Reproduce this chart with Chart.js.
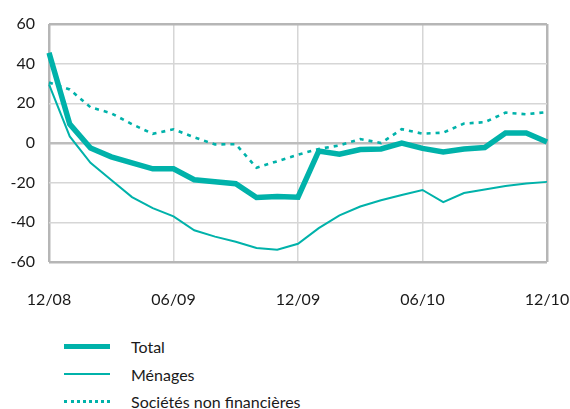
<!DOCTYPE html>
<html>
<head>
<meta charset="utf-8">
<script src="https://cdn.jsdelivr.net/npm/chart.js@4.4.1/dist/chart.umd.min.js"></script>
<style>
  body { margin: 0; background: #fff; font-family: Lato, "Open Sans", sans-serif; }
  .wrap { position: relative; width: 570px; height: 409px; }
  #chart { position: absolute; left: 0; top: 0; }
  .legend { position: absolute; left: 64px; top: 333px; font-size: 16px; color: #1a1a1a; }
  .legend .row { height: 27.5px; display: flex; align-items: center; }
  .legend .sw { width: 46px; margin-right: 21px; }
</style>
</head>
<body>
<div class="wrap">
  <canvas id="chart" width="570" height="320"></canvas>
  <div class="legend" id="legend"></div>
</div>
<script>
// months 12/08 .. 12/10
const months = ['12/08','01/09','02/09','03/09','04/09','05/09','06/09','07/09','08/09','09/09','10/09','11/09',
                '12/09','01/10','02/10','03/10','04/10','05/10','06/10','07/10','08/10','09/10','10/10','11/10','12/10'];

const total =    [45.5, 9.5, -2.5, -7, -10, -13, -13, -18.5, -19.5, -20.5, -27.5, -27, -27.3,
                  -4, -5.7, -3.3, -3, 0, -2.7, -4.5, -3, -2.3, 5, 5, 0.5];
const menages =  [29.5, 3.3, -10, -18.7, -27.3, -32.8, -37, -44, -47.2, -49.8, -52.9, -53.8, -50.8,
                  -42.9, -36.5, -32, -28.9, -26.2, -23.7, -29.8, -25.2, -23.4, -21.7, -20.4, -19.6];
const societes = [30.5, 27, 18, 15, 9.5, 4.6, 6.9, 2.9, -0.7, -0.6, -12.5, -9.2, -5.9,
                  -3, -1.2, 2, 0, 7, 4.7, 5.2, 9.8, 10.5, 15.3, 14.5, 15.6];

const yTicks = [-60, -40, -20, 0, 20, 40, 60];
const shownLabels = ['12/08', '06/09', '12/09', '06/10', '12/10'];

const teal = '#00b2aa';
const gridColor = '#d6d6d6';
const frameColor = '#b6b6b6';

const series = [
  { label: 'Total', data: total, width: 5.5, dash: [] },
  { label: 'Ménages', data: menages, width: 2, dash: [] },
  { label: 'Sociétés non financières', data: societes, width: 2.6, dash: [4, 5] }
];

new Chart(document.getElementById('chart'), {
  type: 'line',
  data: {
    labels: months,
    datasets: series.map(s => ({
      label: s.label,
      data: s.data,
      borderColor: teal,
      borderWidth: s.width,
      borderDash: s.dash,
      pointRadius: 0,
      tension: 0,
      borderJoinStyle: 'miter',
      borderCapStyle: 'butt'
    }))
  },
  options: {
    responsive: false,
    animation: false,
    layout: { padding: { top: 24, right: 23, left: 0, bottom: 0 } },
    plugins: { legend: { display: false }, tooltip: { enabled: false } },
    scales: {
      x: {
        offset: false,
        border: { display: false },
        grid: {
          drawTicks: false,
          color: ctx => {
            if (ctx.index === 0 || ctx.index === months.length - 1) return frameColor;
            return shownLabels.includes(months[ctx.index]) ? gridColor : 'rgba(0,0,0,0)';
          },
          lineWidth: ctx => (ctx.index === 0 || ctx.index === months.length - 1) ? 2.5 : 1.5
        },
        ticks: {
          autoSkip: false,
          maxRotation: 0,
          padding: 28,
          color: '#1a1a1a',
          font: { family: 'Lato', size: 16 },
          callback: function (v, i) { return shownLabels.includes(months[i]) ? months[i] : ''; }
        },
        afterFit: s => { s.height = 320 - 262; s.paddingLeft = 0; s.paddingRight = 0; }
      },
      y: {
        min: -60,
        max: 60,
        border: { display: false },
        afterBuildTicks: s => { s.ticks = yTicks.map(v => ({ value: v })); },
        grid: {
          drawTicks: false,
          color: ctx => (ctx.tick.value === 60 || ctx.tick.value === -60) ? frameColor
                        : (ctx.tick.value === 0 ? '#bdbdbd' : gridColor),
          lineWidth: ctx => (ctx.tick.value === 60 || ctx.tick.value === -60 || ctx.tick.value === 0) ? 2.5 : 1.5
        },
        ticks: {
          padding: 14,
          color: '#1a1a1a',
          font: { family: 'Lato', size: 16 }
        },
        afterFit: s => { s.width = 49; s.paddingTop = 0; s.paddingBottom = 0; }
      }
    }
  }
});

// legend
const legend = document.getElementById('legend');
series.forEach(s => {
  const row = document.createElement('div');
  row.className = 'row';
  const sw = document.createElement('span');
  sw.className = 'sw';
  sw.style.borderTop = (s.dash.length ? 3 : s.width) + 'px ' + (s.dash.length ? 'dotted ' : 'solid ') + teal;
  const txt = document.createElement('span');
  txt.textContent = s.label;
  row.appendChild(sw);
  row.appendChild(txt);
  legend.appendChild(row);
});
</script>
</body>
</html>
